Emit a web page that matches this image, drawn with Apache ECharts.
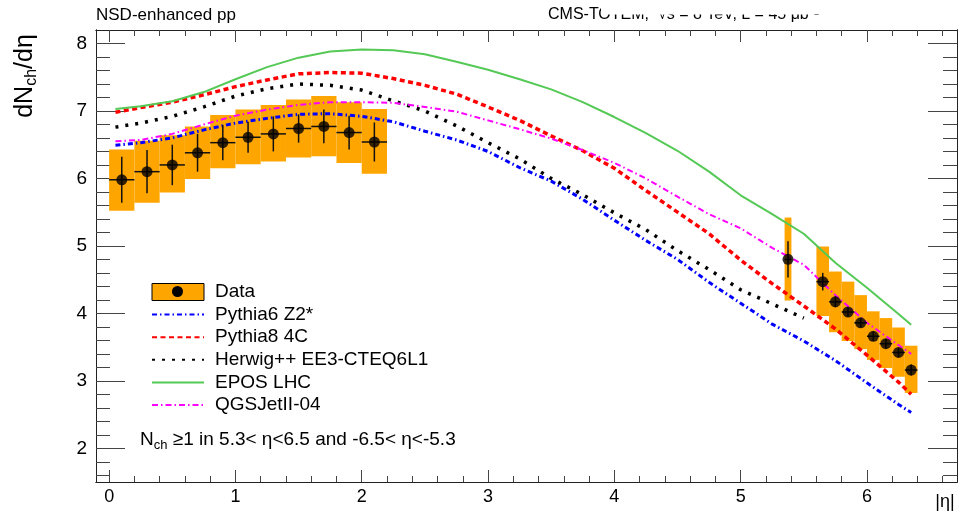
<!DOCTYPE html>
<html><head><meta charset="utf-8">
<script src="https://cdn.jsdelivr.net/npm/echarts@6/dist/echarts.min.js"></script>
<style>html,body{margin:0;padding:0;background:#fff}#c{width:960px;height:515px}</style>
</head><body><div id="c"></div>
<script>
// ---- Data ----
const etaLeft = [0.1, 0.3, 0.5, 0.7, 0.9, 1.1, 1.3, 1.5, 1.7, 1.9, 2.1];
const halfBinLeft = [0.1, 0.1, 0.1, 0.1, 0.1, 0.1, 0.1, 0.1, 0.1, 0.1, 0.1];
const dataLeft = [5.98, 6.10, 6.20, 6.38, 6.53, 6.61, 6.66, 6.74, 6.77, 6.68, 6.54];
const statLeft = [0.34, 0.32, 0.30, 0.28, 0.26, 0.23, 0.26, 0.21, 0.25, 0.25, 0.29];
const sysLowLeft = [5.52, 5.64, 5.79, 5.99, 6.15, 6.21, 6.25, 6.31, 6.33, 6.23, 6.07];
const sysHighLeft = [6.43, 6.56, 6.64, 6.77, 6.94, 7.02, 7.09, 7.17, 7.22, 7.13, 7.03];

const etaRight = [5.375, 5.65, 5.75, 5.85, 5.95, 6.05, 6.15, 6.25, 6.35];
const halfBinRight = [0.027, 0.05, 0.05, 0.05, 0.05, 0.05, 0.05, 0.05, 0.05];
const dataRight = [4.80, 4.47, 4.17, 4.02, 3.86, 3.66, 3.55, 3.42, 3.16];
const statRight = [0.27, 0.13, 0.08, 0.07, 0.07, 0.07, 0.07, 0.07, 0.08];
const sysLowRight = [4.19, 3.96, 3.72, 3.59, 3.47, 3.31, 3.19, 3.06, 2.82];
const sysHighRight = [5.42, 4.99, 4.62, 4.47, 4.27, 4.03, 3.93, 3.79, 3.52];

const etaMC = [0.05, 0.25, 0.5, 0.75, 1.0, 1.25, 1.5, 1.75, 2.0, 2.25, 2.5, 2.75, 3.0, 3.25, 3.5, 3.75, 4.0, 4.25, 4.5, 4.75, 5.0, 5.25, 5.5, 5.75, 6.0, 6.25, 6.35];
const pythia6 = [6.49, 6.53, 6.60, 6.72, 6.82, 6.89, 6.95, 6.96, 6.92, 6.84, 6.70, 6.57, 6.40, 6.16, 5.96, 5.69, 5.38, 5.08, 4.80, 4.46, 4.15, 3.84, 3.59, 3.30, 2.97, 2.65, 2.53];
const pythia8 = [6.98, 7.05, 7.13, 7.24, 7.36, 7.46, 7.55, 7.57, 7.56, 7.48, 7.38, 7.25, 7.06, 6.86, 6.63, 6.41, 6.15, 5.82, 5.50, 5.18, 4.79, 4.44, 4.11, 3.77, 3.38, 2.98, 2.80];
const herwig = [6.76, 6.82, 6.92, 7.06, 7.22, 7.33, 7.40, 7.38, 7.31, 7.15, 7.00, 6.78, 6.53, 6.29, 6.00, 5.76, 5.49, 5.24, 4.93, 4.65, 4.35, 4.14, 3.93, null, null, null, null];
const epos = [7.03, 7.07, 7.145, 7.28, 7.47, 7.65, 7.79, 7.88, 7.91, 7.90, 7.84, 7.73, 7.61, 7.47, 7.32, 7.13, 6.91, 6.67, 6.41, 6.10, 5.75, 5.47, 5.18, 4.75, 4.38, 3.99, 3.83];
const qgsjet = [6.55, 6.57, 6.66, 6.80, 6.93, 7.02, 7.09, 7.13, 7.13, 7.12, 7.06, 6.99, 6.86, 6.73, 6.59, 6.42, 6.23, 6.00, 5.73, 5.47, 5.26, 4.97, 4.72, 4.27, 3.86, 3.53, 3.40];

const xTickLabels = [0, 1, 2, 3, 4, 5, 6];
const yTickLabels = [2, 3, 4, 5, 6, 7, 8];

// ---- build ----
const FONT = '"Liberation Sans", Arial, Helvetica, sans-serif';
const X_MIN = -0.104, X_MAX = 6.713, Y_MIN = 1.5, Y_MAX = 8.2;
function minorList(lo, hi, step, majors) {
  const out = [];
  for (let k = Math.ceil(lo / step - 1e-9); k * step <= hi + 1e-9; k++) {
    const v = +(k * step).toFixed(4);
    if (!majors.includes(v)) out.push(v);
  }
  return out;
}
const xMinor = minorList(0, X_MAX, 0.2, xTickLabels);
const yMinor = minorList(1.6, Y_MAX - 0.01, 0.2, yTickLabels);

const pair = (xs, ys) => xs.map((x, i) => [x, ys[i]]);
const boxes = etaLeft.map((x, i) => [x, halfBinLeft[i], sysLowLeft[i], sysHighLeft[i]])
  .concat(etaRight.map((x, i) => [x, halfBinRight[i], sysLowRight[i], sysHighRight[i]]));
const points = etaLeft.map((x, i) => [x, dataLeft[i], halfBinLeft[i], statLeft[i]])
  .concat(etaRight.map((x, i) => [x, dataRight[i], halfBinRight[i], statRight[i]]));

function xAx(pos, ticks, len, labels) {
  return {
    type: 'value', position: pos, min: X_MIN, max: X_MAX,
    axisLine: { show: true, onZero: false, lineStyle: { color: '#222', width: 1 } },
    axisTick: { show: true, inside: true, length: len, customValues: ticks, lineStyle: { color: '#444', width: 1 } },
    axisLabel: labels ? { show: true, customValues: labels, fontSize: 18, margin: 6, color: '#000', fontFamily: FONT } : { show: false },
    splitLine: { show: false }
  };
}
function yAx(pos, ticks, len, labels) {
  return {
    type: 'value', position: pos, min: Y_MIN, max: Y_MAX,
    axisLine: { show: true, onZero: false, lineStyle: { color: '#222', width: 1 } },
    axisTick: { show: true, inside: true, length: len, customValues: ticks, lineStyle: { color: '#444', width: 1 } },
    axisLabel: labels ? { show: true, customValues: labels, fontSize: 19, margin: 9, color: '#000', fontFamily: FONT } : { show: false },
    splitLine: { show: false }
  };
}

function lineSeries(name, ys, color, width, dash) {
  return {
    name, type: 'line', xAxisIndex: 0, yAxisIndex: 0, data: pair(etaMC, ys),
    showSymbol: false, symbol: 'circle', symbolSize: 0, connectNulls: false, z: 3, silent: true,
    lineStyle: { color, width, type: dash },
    itemStyle: { color }
  };
}

const chart = echarts.init(document.getElementById('c'));
chart.setOption({
  animation: false,
  backgroundColor: '#fff',
  textStyle: { fontFamily: FONT },
  grid: { left: 96, right: 3, top: 30, bottom: 33, containLabel: false },
  xAxis: [
    xAx('bottom', xTickLabels, 12, xTickLabels),
    xAx('bottom', xMinor, 6, null),
    xAx('top', xTickLabels, 12, null),
    xAx('top', xMinor, 6, null)
  ],
  yAxis: [
    yAx('left', yTickLabels, 29, yTickLabels),
    yAx('left', yMinor, 14, null),
    yAx('right', yTickLabels, 29, null),
    yAx('right', yMinor, 14, null)
  ],
  legend: {
    orient: 'vertical', left: 151, top: 282.5, padding: 0,
    itemWidth: 52, itemHeight: 17, itemGap: 3.6,
    textStyle: { fontSize: 19, lineHeight: 17, color: '#000', fontFamily: FONT, padding: [0, 0, 0, 6] },
    itemStyle: { opacity: 0 },
    selectedMode: false,
    data: [
      { name: 'Data', icon: 'rect', itemStyle: { color: '#ffa500', borderColor: '#000', borderWidth: 1, opacity: 1 } },
      'Pythia6 Z2*', 'Pythia8 4C', 'Herwig++ EE3-CTEQ6L1', 'EPOS LHC', 'QGSJetII-04'
    ]
  },
  series: [
    {
      name: 'Data', type: 'custom', xAxisIndex: 0, yAxisIndex: 0, data: boxes, z: 1, silent: true,
      itemStyle: { color: '#ffa500' },
      encode: { x: 0, y: [2, 3] },
      renderItem: (params, api) => {
        const x = api.value(0), hw = api.value(1), lo = api.value(2), hi = api.value(3);
        const p1 = api.coord([x - hw, hi]), p2 = api.coord([x + hw, lo]);
        return { type: 'rect', shape: { x: p1[0], y: p1[1], width: p2[0] - p1[0], height: p2[1] - p1[1] },
                 style: { fill: '#ffa500' } };
      }
    },
    lineSeries('Pythia6 Z2*', pythia6, '#0000ff', 3, [5, 3, 1.5, 3]),
    lineSeries('Pythia8 4C', pythia8, '#ff0000', 3.5, [5, 3.5]),
    lineSeries('Herwig++ EE3-CTEQ6L1', herwig, '#000000', 3.5, [3, 7]),
    lineSeries('EPOS LHC', epos, '#55c955', 2, 'solid'),
    lineSeries('QGSJetII-04', qgsjet, '#ff00ff', 2, [6, 3, 1.5, 3]),
    {
      name: 'Data errors', type: 'custom', xAxisIndex: 0, yAxisIndex: 0, data: points, z: 4, silent: true,
      encode: { x: 0, y: 1 },
      renderItem: (params, api) => {
        const x = api.value(0), y = api.value(1), xe = api.value(2), ye = api.value(3);
        const l = api.coord([x - xe, y]), r = api.coord([x + xe, y]);
        const t = api.coord([x, y + ye]), b = api.coord([x, y - ye]);
        const st = { stroke: '#111', lineWidth: 1.5 };
        return { type: 'group', children: [
          { type: 'line', shape: { x1: l[0], y1: l[1], x2: r[0], y2: r[1] }, style: st },
          { type: 'line', shape: { x1: t[0], y1: t[1], x2: b[0], y2: b[1] }, style: st }
        ] };
      }
    },
    {
      name: 'Data points', type: 'scatter', xAxisIndex: 0, yAxisIndex: 0, z: 5, silent: true,
      data: points.map(p => [p[0], p[1]]), symbol: 'circle', symbolSize: 11,
      itemStyle: { color: '#000' }
    }
  ],
  graphic: [
    { type: 'circle', left: 172, top: 286, shape: { r: 5.5 }, style: { fill: '#000' }, z: 100 },
    { type: 'text', left: 96, top: 7, style: { text: 'NSD-enhanced pp', fontSize: 17, fill: '#000', fontFamily: FONT } },
    { type: 'text', left: 548, top: 7, style: { text: 'CMS-TOTEM,  \u221As = 8 TeV, L = 45 \u03BCb\u207B\u00B9', fontSize: 16, fill: '#000', fontFamily: FONT }, z: 10 },
    { type: 'rect', shape: { x: 601, y: 0, width: 270, height: 14.5 }, style: { fill: '#fff' }, z: 11 },
    { type: 'text', x: 945, y: 502, style: { text: '|\u03B7|', fontSize: 18, fill: '#000', fontFamily: FONT, textAlign: 'center', textVerticalAlign: 'middle' } },
    { type: 'text', x: 140, y: 440, style: {
        text: '{a|N}{s|ch}{a| \u22651 in 5.3< \u03B7<6.5 and -6.5< \u03B7<-5.3}',
        textVerticalAlign: 'middle', fill: '#000',
        rich: { a: { fontSize: 19, lineHeight: 23, fontFamily: FONT, fill: '#000' },
                s: { fontSize: 13, lineHeight: 13, verticalAlign: 'bottom', fontFamily: FONT, fill: '#000' } } } },
    { type: 'text', x: 25, y: 76, rotation: Math.PI / 2, style: {
        text: '{a|dN}{s|ch}{a|/d\u03B7}', textAlign: 'center', textVerticalAlign: 'middle', fill: '#000',
        rich: { a: { fontSize: 25, lineHeight: 30, fontFamily: FONT, fill: '#000' },
                s: { fontSize: 16, lineHeight: 16, verticalAlign: 'bottom', fontFamily: FONT, fill: '#000' } } } }
  ]
});
</script></body></html>
